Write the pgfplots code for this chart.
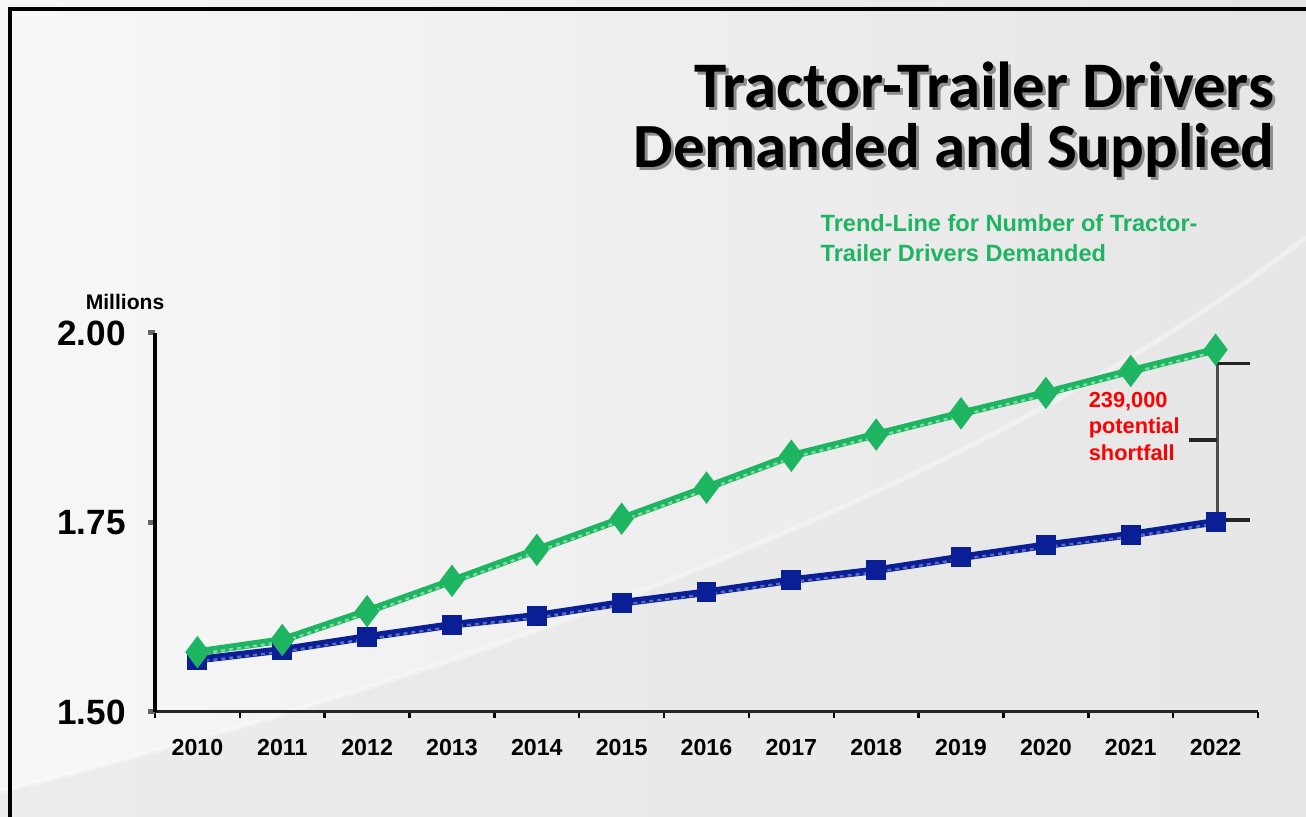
\documentclass[border=0pt]{standalone}
\usepackage{fontspec}
\setmainfont{Liberation Sans}
\newfontfamily\calibri{Carlito}
\usepackage{pgfplots}
\pgfplotsset{compat=1.18}
\definecolor{dgreen}{HTML}{1DB561}
\definecolor{dblue}{HTML}{0A1E96}
\definecolor{lgreen}{HTML}{7FD9A2}
\definecolor{lblue}{HTML}{5A6AC0}
\begin{document}
\begin{tikzpicture}
\begin{scope}[x=0.1mm,y=0.1mm]
\useasboundingbox (0,0) rectangle (1306,817);
\shade[left color=white!97!black, right color=white!90!black] (0,0) rectangle (1306,817);
\fill[white!91!black, opacity=0.7] (0,0) -- (0,25) .. controls (500,150) and (1000,340) .. (1306,580) -- (1306,0) -- cycle;
\draw[white, line width=0.5mm, opacity=0.35] (0,25) .. controls (500,150) and (1000,340) .. (1306,580);
\draw[black, line width=0.35mm] (10,0) -- (10,808) -- (1306,808);
% title with shadow
\node[anchor=base east, text=black!45, font=\calibri\bfseries\fontsize{18.5}{22}\selectfont, inner sep=0] at (1278,706) {Tractor-Trailer Drivers};
\node[anchor=base east, text=black, font=\calibri\bfseries\fontsize{18.5}{22}\selectfont, inner sep=0] at (1275,709) {Tractor-Trailer Drivers};
\node[anchor=base east, text=black!45, font=\calibri\bfseries\fontsize{17.9}{22}\selectfont, inner sep=0] at (1278,646) {Demanded and Supplied};
\node[anchor=base east, text=black, font=\calibri\bfseries\fontsize{17.9}{22}\selectfont, inner sep=0] at (1275,649) {Demanded and Supplied};
% trend-line label
\node[anchor=base west, text=dgreen, font=\bfseries\fontsize{6.7}{8}\selectfont, inner sep=0] at (820,585) {Trend-Line for Number of Tractor-};
\node[anchor=base west, text=dgreen, font=\bfseries\fontsize{6.7}{8}\selectfont, inner sep=0] at (820,555) {Trailer Drivers Demanded};
\node[font=\bfseries\fontsize{6}{7}\selectfont, inner sep=0] at (125,515) {Millions};
\end{scope}
\begin{axis}[
  at={(15.5mm,10.5mm)}, anchor=south west, scale only axis,
  width=110.3mm, height=37.9mm,
  xmin=-0.5, xmax=12.5, ymin=1.5, ymax=2.0,
  axis lines*=left,
  axis line style={-},
  x axis line style={black!85, line width=0.3mm},
  y axis line style={black, line width=0.4mm},
  clip=false,
  xtick={0,1,2,3,4,5,6,7,8,9,10,11,12},
  xticklabels={2010,2011,2012,2013,2014,2015,2016,2017,2018,2019,2020,2021,2022},
  minor xtick={-0.5,0.5,1.5,2.5,3.5,4.5,5.5,6.5,7.5,8.5,9.5,10.5,11.5,12.5},
  major x tick style={draw=none},
  minor x tick style={black, line width=0.25mm},
  minor tick length=0.6mm,
  ytick={1.5,1.75,2.0},
  yticklabels={1.50,1.75,2.00},
  major y tick style={black!60, line width=0.5mm},
  major tick length=0.7mm,
  tick align=outside,
  xticklabel style={font=\bfseries\fontsize{6.6}{8}\selectfont, yshift=-0.8mm},
  yticklabel style={font=\bfseries\fontsize{10}{12}\selectfont, xshift=-1mm},
]
\draw[black, line width=0.4mm] (rel axis cs:0,0) -- (rel axis cs:0,1);
\addplot[dblue, line width=0.75mm, mark=square*, mark size=0.62mm] coordinates {
(0,1.569)(1,1.582)(2,1.599)(3,1.615)(4,1.627)(5,1.644)(6,1.658)(7,1.674)(8,1.687)(9,1.704)(10,1.720)(11,1.734)(12,1.751)};
\addplot[lblue, line width=0.25mm, dash pattern=on 0.4mm off 0.4mm, yshift=-0.2mm] coordinates {
(0,1.569)(1,1.582)(2,1.599)(3,1.615)(4,1.627)(5,1.644)(6,1.658)(7,1.674)(8,1.687)(9,1.704)(10,1.720)(11,1.734)(12,1.751)};
\addplot[dgreen, line width=0.75mm, mark=diamond*, mark size=1.0mm] coordinates {
(0,1.579)(1,1.595)(2,1.633)(3,1.673)(4,1.714)(5,1.755)(6,1.796)(7,1.838)(8,1.866)(9,1.894)(10,1.921)(11,1.950)(12,1.978)};
\addplot[lgreen, line width=0.25mm, dash pattern=on 0.4mm off 0.4mm, yshift=-0.2mm] coordinates {
(0,1.579)(1,1.595)(2,1.633)(3,1.673)(4,1.714)(5,1.755)(6,1.796)(7,1.838)(8,1.866)(9,1.894)(10,1.921)(11,1.950)(12,1.978)};
\draw[black!70, line width=0.3mm] (axis cs:12.02,1.960) -- (axis cs:12.02,1.753);
\draw[black!85, line width=0.35mm] (axis cs:12.02,1.960) -- (axis cs:12.40,1.960);
\draw[black!85, line width=0.35mm] (axis cs:12.02,1.753) -- (axis cs:12.40,1.753);
\draw[black!85, line width=0.35mm] (axis cs:11.69,1.859) -- (axis cs:12.02,1.859);
\node[anchor=west, align=left, text=red, font=\bfseries\fontsize{6.2}{7.6}\selectfont] at (axis cs:10.36,1.877) {239,000\\potential\\shortfall};
\end{axis}
\end{tikzpicture}
\end{document}
